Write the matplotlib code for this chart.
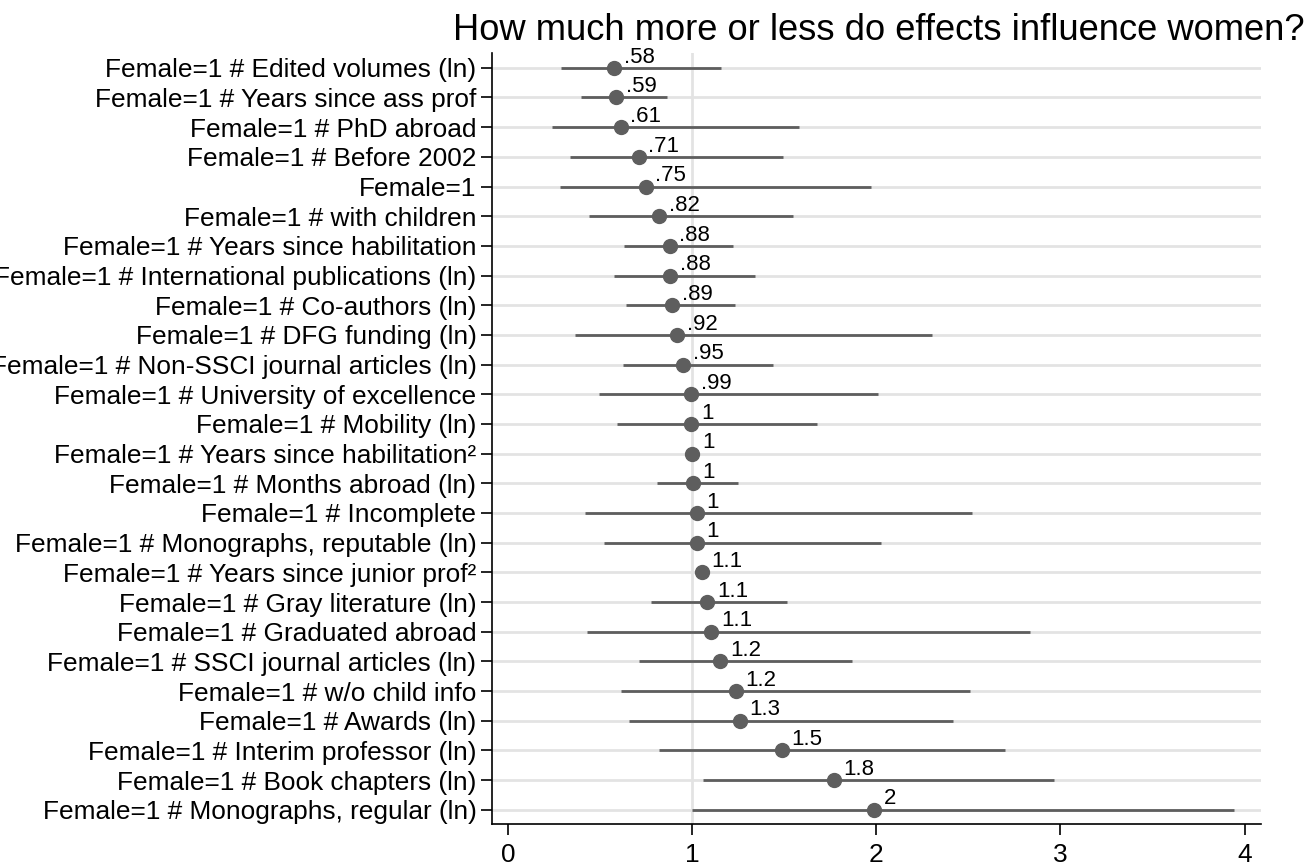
import numpy as np
import matplotlib
matplotlib.use('Agg')
import matplotlib.pyplot as plt

labels = [
    'Female=1 # Edited volumes (ln)',
    'Female=1 # Years since ass prof',
    'Female=1 # PhD abroad',
    'Female=1 # Before 2002',
    'Female=1',
    'Female=1 # with children',
    'Female=1 # Years since habilitation',
    'Female=1 # International publications (ln)',
    'Female=1 # Co-authors (ln)',
    'Female=1 # DFG funding (ln)',
    'Female=1 # Non-SSCI journal articles (ln)',
    'Female=1 # University of excellence',
    'Female=1 # Mobility (ln)',
    'Female=1 # Years since habilitation\u00b2',
    'Female=1 # Months abroad (ln)',
    'Female=1 # Incomplete',
    'Female=1 # Monographs, reputable (ln)',
    'Female=1 # Years since junior prof\u00b2',
    'Female=1 # Gray literature (ln)',
    'Female=1 # Graduated abroad',
    'Female=1 # SSCI journal articles (ln)',
    'Female=1 # w/o child info',
    'Female=1 # Awards (ln)',
    'Female=1 # Interim professor (ln)',
    'Female=1 # Book chapters (ln)',
    'Female=1 # Monographs, regular (ln)',
]
coef = [0.578, 0.586, 0.612, 0.710, 0.748, 0.820, 0.878, 0.880, 0.893, 0.918,
        0.950, 0.993, 0.996, 1.001, 1.004, 1.026, 1.026, 1.052, 1.082, 1.104,
        1.154, 1.236, 1.260, 1.488, 1.768, 1.989]
ci_lo = [0.286, 0.398, 0.239, 0.338, 0.282, 0.438, 0.630, 0.577, 0.642, 0.366,
         0.623, 0.492, 0.590, 0.990, 0.811, 0.420, 0.523, 1.040, 0.775, 0.429,
         0.713, 0.612, 0.655, 0.822, 1.057, 1.001]
ci_hi = [1.158, 0.861, 1.582, 1.495, 1.971, 1.549, 1.220, 1.343, 1.231, 2.300,
         1.437, 2.009, 1.678, 1.012, 1.247, 2.517, 2.025, 1.064, 1.515, 2.837,
         1.868, 2.510, 2.418, 2.698, 2.963, 3.943]
value_labels = ['.58', '.59', '.61', '.71', '.75', '.82', '.88', '.88', '.89', '.92',
                '.95', '.99', '1', '1', '1', '1', '1', '1.1', '1.1', '1.1',
                '1.2', '1.2', '1.3', '1.5', '1.8', '2']
xticks = [0, 1, 2, 3, 4]

plt.rcParams['font.family'] = ['Liberation Sans', 'DejaVu Sans']

DOT = '#5e5e5e'
GRID = '#e3e3e3'

fig = plt.figure(figsize=(13.12, 8.67), dpi=100)
ax = fig.add_axes([0.3748, 0.0496, 0.5862, 0.8893])

n = len(labels)
ypos = np.arange(1, n + 1)

for y in ypos:
    ax.axhline(y, color=GRID, linewidth=2, zorder=0)
ax.axvline(1, color=GRID, linewidth=2, zorder=0)

ax.hlines(ypos, ci_lo, ci_hi, color=DOT, linewidth=2, zorder=2)
ax.plot(coef, ypos, 'o', color=DOT, markersize=10, zorder=3)

for x, y, s in zip(coef, ypos, value_labels):
    ax.annotate(s, xy=(x, y), xytext=(7, 3.8), textcoords='offset points',
                ha='left', va='baseline', fontsize=16)

ax.set_ylim(n + 0.48, 0.5)
ax.set_xlim(-0.088, 4.088)
ax.set_yticks(ypos)
ax.set_yticklabels(labels, fontsize=18.9)
ax.set_xticks(xticks)
ax.set_xticklabels([str(t) for t in xticks], fontsize=18.9)
ax.tick_params(axis='both', length=8, width=1.2, color='black')
ax.tick_params(axis='x', pad=6)
ax.tick_params(axis='y', pad=3)

for side in ['top', 'right']:
    ax.spines[side].set_visible(False)
for side in ['left', 'bottom']:
    ax.spines[side].set_linewidth(1.2)

fig.text(453 / 1312, 1 - 40 / 867, 'How much more or less do effects influence women?',
         fontsize=26.2, ha='left', va='baseline')

fig.savefig('out.png', dpi=100)
plt.close()
